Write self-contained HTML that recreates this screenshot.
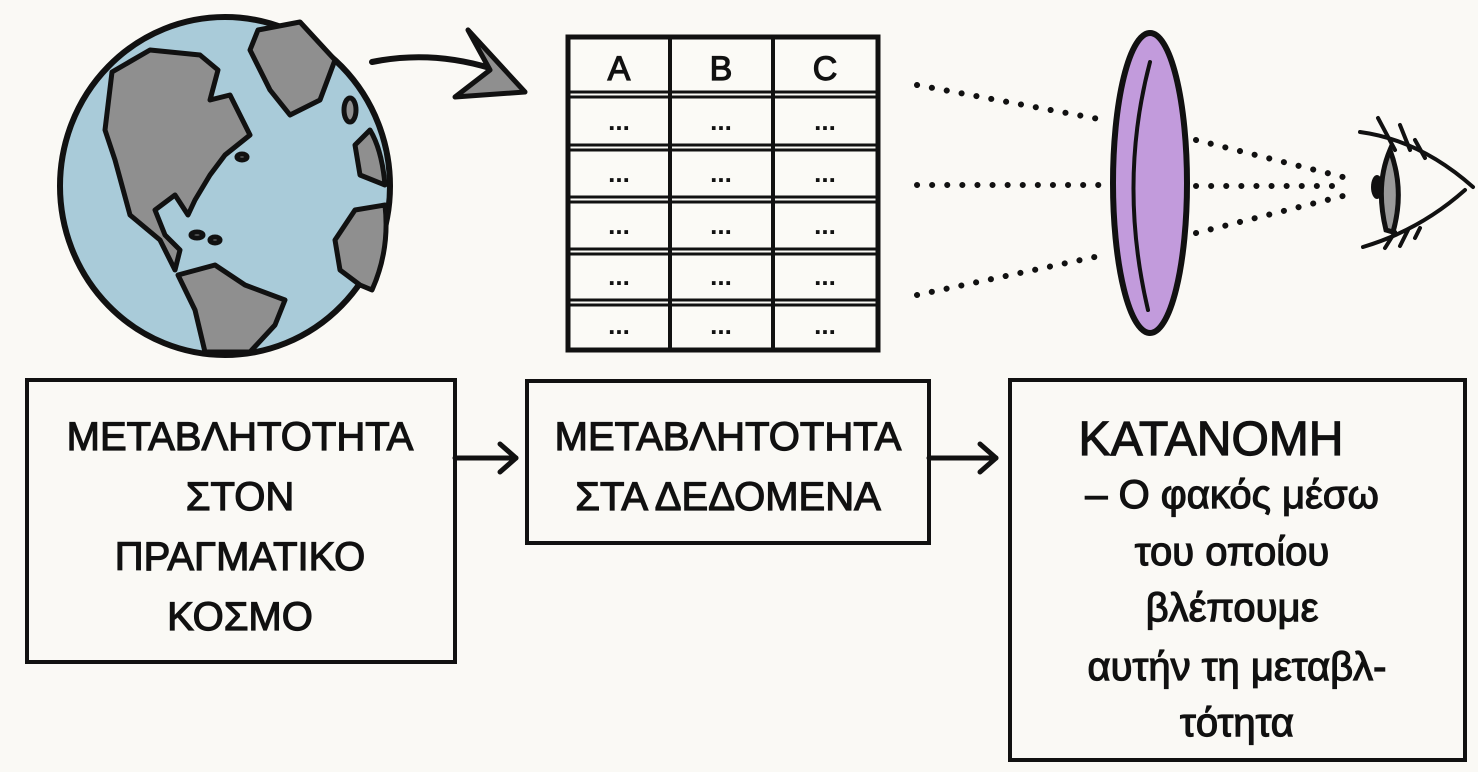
<!DOCTYPE html>
<html><head><meta charset="utf-8"><style>
body{margin:0;background:#faf9f5;}
svg{display:block}
text{font-family:"Liberation Sans","DejaVu Sans",sans-serif;fill:#111;text-anchor:middle}
.t{stroke:#111;stroke-width:1.2}
</style></head><body>
<svg width="1478" height="772" viewBox="0 0 1478 772" xmlns="http://www.w3.org/2000/svg">
<rect width="1478" height="772" fill="#faf9f5"/>
<!-- globe -->
<ellipse cx="225" cy="186" rx="165" ry="169" fill="#a9cbd9" stroke="#111" stroke-width="6"/>
<g fill="#8f8f8f" stroke="#111" stroke-width="5" stroke-linejoin="round">
<path d="M112,72 L150,50 L200,55 L218,70 L210,100 L230,95 L250,135 L225,155 L210,175 L195,200 L188,215 L175,195 L155,210 L165,235 L180,250 L175,270 L160,240 L130,215 L115,160 L105,130 Z"/>
<path d="M258,30 L300,22 L335,60 L320,100 L290,115 L270,90 L250,50 Z"/>
<path d="M178,275 L215,265 L245,285 L285,300 L275,325 L250,352 L205,352 L195,310 Z"/>
<path d="M385,205 L355,210 L335,240 L340,270 L360,285 L372,290 Q390,250 385,205 Z"/>
<path d="M370,130 L355,145 L360,175 L385,185 Q382,150 370,130 Z"/>
<ellipse cx="350" cy="110" rx="6" ry="12"/>
<ellipse cx="242" cy="157" rx="5" ry="3"/>
<ellipse cx="197" cy="235" rx="6" ry="3"/>
<ellipse cx="215" cy="240" rx="5" ry="3"/>
</g>
<!-- curved arrow -->
<path d="M372,62 Q430,50 490,68" fill="none" stroke="#111" stroke-width="6" stroke-linecap="round"/>
<path d="M468,30 L525,92 L455,97 L490,70 Z" fill="#8f8f8f" stroke="#111" stroke-width="5" stroke-linejoin="round"/>
<!-- table -->
<g stroke="#111" fill="none">
<rect x="568" y="37" width="310" height="313" stroke-width="5" fill="#fbfaf6"/>
<line x1="670" y1="37" x2="670" y2="350" stroke-width="4"/>
<line x1="773" y1="37" x2="773" y2="350" stroke-width="4"/>
<g stroke-width="3">
<line x1="568" y1="92" x2="878" y2="92"/><line x1="568" y1="97" x2="878" y2="97"/>
<line x1="568" y1="145" x2="878" y2="145"/><line x1="568" y1="150" x2="878" y2="150"/>
<line x1="568" y1="197" x2="878" y2="197"/><line x1="568" y1="202" x2="878" y2="202"/>
<line x1="568" y1="249" x2="878" y2="249"/><line x1="568" y1="254" x2="878" y2="254"/>
<line x1="568" y1="300" x2="878" y2="300"/><line x1="568" y1="305" x2="878" y2="305"/>
</g></g>
<g style="font-size:34px" class="t">
<text x="619" y="80">A</text><text x="721" y="80">B</text><text x="825" y="80">C</text>
</g>
<g style="font-size:26px;font-weight:bold">
<text x="619" y="130">...</text><text x="721" y="130">...</text><text x="825" y="130">...</text>
<text x="619" y="182">...</text><text x="721" y="182">...</text><text x="825" y="182">...</text>
<text x="619" y="234">...</text><text x="721" y="234">...</text><text x="825" y="234">...</text>
<text x="619" y="285">...</text><text x="721" y="285">...</text><text x="825" y="285">...</text>
<text x="619" y="334">...</text><text x="721" y="334">...</text><text x="825" y="334">...</text>
</g>
<!-- dotted rays -->
<g stroke="#111" stroke-width="6" stroke-linecap="round" stroke-dasharray="0.1 15" fill="none">
<line x1="917" y1="85" x2="1104" y2="120"/>
<line x1="917" y1="185" x2="1104" y2="185"/>
<line x1="917" y1="295" x2="1104" y2="255"/>
<line x1="1196" y1="140" x2="1343" y2="177"/>
<line x1="1196" y1="186" x2="1343" y2="186"/>
<line x1="1196" y1="233" x2="1343" y2="196"/>
</g>
<!-- lens -->
<ellipse cx="1150" cy="183" rx="37" ry="150" fill="#c29bdc" stroke="#111" stroke-width="6"/>
<path d="M1150,62 Q1118,183 1148,310" fill="none" stroke="#111" stroke-width="4" stroke-linecap="round"/>
<!-- eye -->
<path d="M1390,150 Q1375,185 1386,230 L1393,232 Q1405,190 1390,150 Z" fill="#999" stroke="#111" stroke-width="5"/>
<ellipse cx="1377" cy="187" rx="6" ry="12" fill="#111"/>
<g stroke="#111" stroke-width="4" fill="none" stroke-linecap="round">
<path d="M1360,132 Q1420,140 1473,187"/>
<path d="M1363,247 Q1420,230 1465,190"/>
<path d="M1378,118 L1395,150"/><path d="M1400,125 L1410,150"/><path d="M1415,140 L1425,158"/>
<path d="M1385,248 L1395,232"/><path d="M1400,246 L1408,230"/><path d="M1415,238 L1420,228"/>
</g>
<!-- boxes -->
<g fill="none" stroke="#111" stroke-width="4">
<rect x="27" y="380" width="428" height="282"/>
<rect x="527" y="381" width="402" height="162"/>
<rect x="1010" y="380" width="455" height="380"/>
</g>
<g stroke="#111" stroke-width="5" fill="none" stroke-linecap="round" stroke-linejoin="round">
<line x1="455" y1="458" x2="516" y2="458"/><path d="M500,444 L516,458 L500,472"/>
<line x1="929" y1="458" x2="996" y2="458"/><path d="M980,444 L996,458 L980,472"/>
</g>
<g style="font-size:40px" class="t">
<text x="240" y="450">ΜΕΤΑΒΛΗΤΟΤΗΤΑ</text>
<text x="240" y="510">ΣΤΟΝ</text>
<text x="240" y="570">ΠΡΑΓΜΑΤΙΚΟ</text>
<text x="240" y="630">ΚΟΣΜΟ</text>
<text x="728" y="450">ΜΕΤΑΒΛΗΤΟΤΗΤΑ</text>
<text x="728" y="510">ΣΤΑ ΔΕΔΟΜΕΝΑ</text>
</g>
<text x="1211" y="455" style="font-size:48px" class="t">ΚΑΤΑΝΟΜΗ</text>
<g style="font-size:40px" class="t">
<text x="1232" y="508">– Ο φακός μέσω</text>
<text x="1232" y="565">του οποίου</text>
<text x="1232" y="621">βλέπουμε</text>
<text x="1237" y="680">αυτήν τη μεταβλ-</text>
<text x="1237" y="736">τότητα</text>
</g>
</svg>
</body></html>
